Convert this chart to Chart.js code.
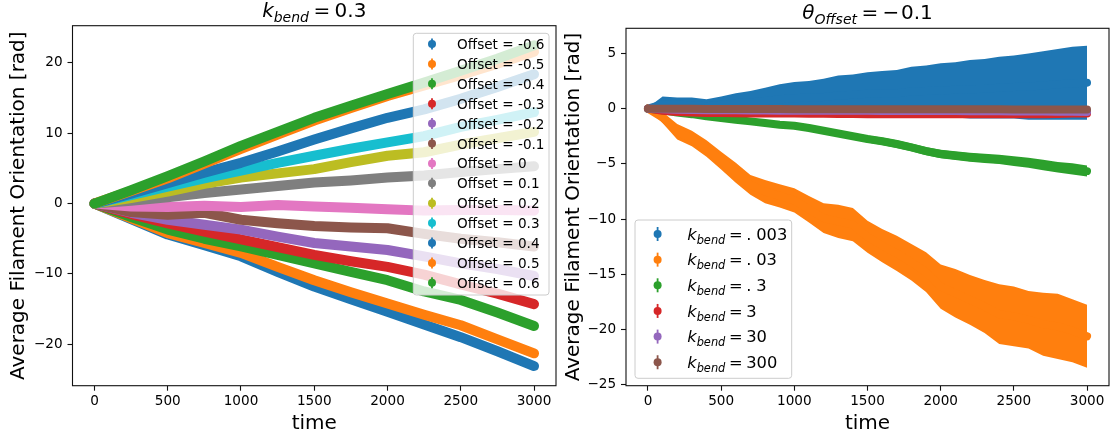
<!DOCTYPE html>
<html>
<head>
<meta charset="utf-8">
<script src="https://cdn.jsdelivr.net/npm/chart.js@4.4.1/dist/chart.umd.min.js"></script>
<style>
  body { margin: 0; background: #fff; }
  #wrap { position: relative; width: 1114px; height: 438px; }
  canvas { position: absolute; left: 0; top: 0; }
</style>
</head>
<body>
<div id="wrap">
  <canvas id="chartOffset" width="1114" height="438"></canvas>
  <canvas id="chartBend" width="1114" height="438"></canvas>
</div>
<script>
const FONT = '"DejaVu Sans", sans-serif'
Chart.defaults.font.family = FONT
Chart.defaults.color = '#000'

const tab10 = ['#1f77b4', '#ff7f0e', '#2ca02c', '#d62728', '#9467bd', '#8c564b', '#e377c2', '#7f7f7f', '#bcbd22', '#17becf']

// ---- left panel: k_bend = 0.3, one curve per offset ----
const tLeft = [0, 250, 500, 750, 1000, 1250, 1500, 1750, 2000, 2250, 2500, 2750, 3000]
const offsetLabels = ['-0.6', '-0.5', '-0.4', '-0.3', '-0.2', '-0.1', '0', '0.1', '0.2', '0.3', '0.4', '0.5', '0.6']

const offsetM06 = [0, -2.2, -4.4, -5.9, -7.5, -9.7, -11.8, -13.6, -15.4, -17.2, -19.0, -21.0, -23.1]
const offsetM05 = [0, -2.1, -4.2, -5.6, -7.0, -9.0, -10.9, -12.6, -14.2, -15.8, -17.3, -19.3, -21.3]
const offsetM04 = [0, -1.9, -3.7, -5.0, -6.1, -7.3, -8.5, -9.7, -10.9, -12.5, -13.7, -15.5, -17.4]
const offsetM03 = [0, -1.5, -2.8, -4.0, -5.1, -6.2, -7.3, -8.2, -9.0, -10.1, -11.5, -12.8, -14.3]
const offsetM02 = [0, -1.3, -2.3, -3.0, -3.7, -4.7, -5.6, -6.1, -6.6, -7.5, -8.5, -9.3, -10.3]
const offsetM01 = [0, -1.2, -1.6, -1.3, -2.3, -2.8, -3.2, -3.4, -3.5, -4.3, -5.0, -5.5, -6.1]
const offset0 = [0, -0.4, -0.5, -0.3, -0.5, -0.2, -0.4, -0.6, -0.8, -1.0, -0.9, -0.9, -1.0]
const offsetP01 = [0, 0.4, 0.9, 1.5, 2.0, 2.5, 3.0, 3.3, 3.7, 4.0, 4.5, 4.9, 5.3]
const offsetP02 = [0, 0.8, 1.7, 2.8, 3.7, 4.3, 4.9, 5.9, 6.8, 7.3, 8.4, 9.3, 10.2]
const offsetP03 = [0, 1.2, 2.4, 3.6, 4.7, 5.8, 6.8, 7.8, 8.7, 9.6, 10.9, 11.9, 13.0]
const offsetP04 = [0, 1.4, 2.9, 4.4, 5.8, 7.4, 9.1, 10.7, 12.2, 13.4, 14.9, 16.6, 18.4]
const offsetP05 = [0, 1.8, 3.6, 5.7, 7.8, 9.8, 11.8, 13.6, 15.3, 16.8, 18.3, 19.9, 21.6]
const offsetP06 = [0, 1.9, 3.9, 6.0, 8.2, 10.2, 12.2, 13.9, 15.6, 17.2, 18.9, 20.6, 22.5]

const xTicks = [0, 500, 1000, 1500, 2000, 2500, 3000]
const yTicksLeft = [-20, -10, 0, 10, 20]

// ---- right panel: offset = -0.1, one curve per k_bend ----
const tRight = [0, 100, 200, 300, 400, 500, 600, 700, 800, 900, 1000, 1100, 1200, 1300, 1400, 1500,
  1600, 1700, 1800, 1900, 2000, 2100, 2200, 2300, 2400, 2500, 2600, 2700, 2800, 2900, 3000]
const kbendLabels = ['.003', '.03', '.3', '3', '30', '300']

const kbend0003 = [0, 0.4, 0.35, 0.3, 0.22, 0.35, 0.5, 0.55, 0.7, 0.85, 0.95, 1.0, 1.05, 1.2, 1.25, 1.35,
  1.4, 1.4, 1.55, 1.6, 1.65, 1.7, 1.75, 1.8, 1.9, 1.95, 2.0, 2.1, 2.2, 2.3, 2.35]
const kbend0003Err = [0.1, 0.7, 0.65, 0.7, 0.62, 0.75, 0.9, 1.05, 1.2, 1.35, 1.45, 1.5, 1.65, 1.8, 1.85, 1.95,
  2.0, 2.1, 2.25, 2.3, 2.45, 2.5, 2.65, 2.7, 2.8, 2.85, 3.0, 3.1, 3.2, 3.3, 3.35]
const kbend003 = [0, -0.8, -2.1, -2.7, -3.6, -4.7, -5.8, -6.9, -7.5, -7.9, -8.3, -9.1, -9.9, -10.2, -10.5, -11.6,
  -12.4, -13.1, -13.9, -14.8, -16.1, -16.7, -17.3, -17.9, -18.6, -18.8, -19.1, -19.5, -19.7, -20.1, -20.6]
const kbend003Err = [0.1, 0.5, 0.7, 0.7, 0.75, 0.8, 0.9, 0.9, 1.05, 1.05, 1.1, 1.2, 1.35, 1.5, 1.5, 1.45,
  1.5, 1.6, 1.65, 1.8, 2.0, 2.2, 2.25, 2.4, 2.7, 2.7, 2.6, 2.85, 2.95, 2.85, 2.85]
const kbend03 = [0, -0.15, -0.35, -0.5, -0.7, -0.85, -1.0, -1.15, -1.3, -1.45, -1.55, -1.75, -2.0, -2.25, -2.5, -2.75,
  -2.95, -3.2, -3.5, -3.85, -4.1, -4.25, -4.4, -4.5, -4.6, -4.75, -4.9, -5.1, -5.3, -5.45, -5.65]
const kbend03Err = [0, 0.1, 0.12, 0.15, 0.17, 0.2, 0.2, 0.22, 0.22, 0.25, 0.25, 0.27, 0.28, 0.3, 0.3, 0.32,
  0.33, 0.35, 0.35, 0.37, 0.38, 0.4, 0.4, 0.42, 0.42, 0.45, 0.45, 0.47, 0.48, 0.5, 0.5]
const kbend3 = [0, -0.2, -0.3, -0.35, -0.4, -0.4, -0.42, -0.45, -0.45, -0.45, -0.45, -0.47, -0.47, -0.48, -0.48, -0.5,
  -0.5, -0.5, -0.5, -0.5, -0.5, -0.5, -0.5, -0.5, -0.5, -0.5, -0.5, -0.5, -0.48, -0.45, -0.45]
const kbend30 = [0, -0.05, -0.1, -0.12, -0.15, -0.15, -0.15, -0.17, -0.17, -0.18, -0.18, -0.2, -0.2, -0.2, -0.2, -0.2,
  -0.22, -0.22, -0.22, -0.22, -0.22, -0.22, -0.24, -0.24, -0.24, -0.25, -0.25, -0.25, -0.27, -0.27, -0.3]
const kbend300 = [0, 0, -0.02, -0.02, -0.03, -0.03, -0.03, -0.04, -0.04, -0.04, -0.05, -0.05, -0.05, -0.05, -0.05, -0.05,
  -0.05, -0.06, -0.06, -0.06, -0.06, -0.06, -0.06, -0.06, -0.06, -0.07, -0.07, -0.07, -0.07, -0.07, -0.07]

const yTicksRight = [-25, -20, -15, -10, -5, 0, 5]

// text with italic symbols and subscripts, drawn piece by piece
const drawMath = (ctx, parts, x, y, size, align) => {
  const fontOf = (p) => (p.it ? 'italic ' : '') + (p.sub ? size * 0.7 : size) + 'px ' + FONT
  let width = 0
  parts.forEach(p => {
    ctx.font = fontOf(p)
    p.w = ctx.measureText(p.t).width
    width += (p.pre || 0) * size + p.w + (p.post || 0) * size
  })
  let cx = align === 'center' ? x - width / 2 : x
  ctx.textAlign = 'left'
  ctx.textBaseline = 'alphabetic'
  parts.forEach(p => {
    cx += (p.pre || 0) * size
    ctx.font = fontOf(p)
    ctx.fillText(p.t, cx, y + (p.sub ? size * 0.25 : 0))
    cx += p.w + (p.post || 0) * size
  })
}

// "sym_sub = value"; a leading decimal point gets a little room after it
const subLabel = (sym, sub, value) => {
  const parts = [{t: sym, it: true}, {t: sub, it: true, sub: true}, {t: '=', pre: 0.22, post: 0.22}]
  if (value.startsWith('.')) parts.push({t: '.', post: 0.3}, {t: value.slice(1)})
  else parts.push({t: value})
  return parts
}

// frame, title and legend go on top of the curves
const panelDecor = {
  id: 'panelDecor',
  afterDatasetsDraw(chart, args, opts) {
    const {ctx, chartArea: a} = chart
    ctx.save()
    ctx.strokeStyle = '#111'
    ctx.lineWidth = 1.1
    ctx.strokeRect(a.left, a.top, a.right - a.left, a.bottom - a.top)

    ctx.fillStyle = '#000'
    drawMath(ctx, opts.title, (a.left + a.right) / 2, opts.titleY, 20, 'center')

    const lg = opts.legend
    ctx.beginPath()
    ctx.roundRect(lg.x, lg.y, lg.w, lg.h, 3)
    ctx.fillStyle = 'rgba(255,255,255,0.8)'
    ctx.fill()
    ctx.strokeStyle = '#cccccc'
    ctx.lineWidth = 1
    ctx.stroke()
    chart.data.datasets.filter(d => d.legendText).forEach((d, i) => {
      const cy = lg.y + lg.first + i * lg.step
      const mx = lg.x + lg.mark
      ctx.strokeStyle = d.borderColor
      ctx.lineWidth = 1.8
      ctx.beginPath()
      ctx.moveTo(mx, cy - lg.bar)
      ctx.lineTo(mx, cy + lg.bar)
      ctx.stroke()
      ctx.fillStyle = d.borderColor
      ctx.beginPath()
      ctx.arc(mx, cy, 4, 0, Math.PI * 2)
      ctx.fill()
      ctx.fillStyle = '#000'
      drawMath(ctx, d.legendText, lg.x + lg.text, cy + lg.base, lg.size, 'left')
    })
    ctx.restore()
  }
}

const tickFmt = (v) => String(v).replace('-', '\u2212')

const axes = (yMin, yMax, yTicks, yWidth, yTitlePad) => ({
  x: {
    type: 'linear', min: -150, max: 3150,
    afterBuildTicks: (s) => { s.ticks = xTicks.map(value => ({value})) },
    afterFit: (s) => { s.height = 52.3 },
    grid: {drawOnChartArea: false, drawTicks: true, tickLength: 5, tickWidth: 1.1, tickColor: '#111'},
    border: {display: false},
    ticks: {font: {size: 13.6}, padding: 3, maxRotation: 0, autoSkip: false, callback: tickFmt},
    title: {display: true, text: 'time', font: {size: 20, lineHeight: 1.2}, padding: {top: 0, bottom: 2.5}}
  },
  y: {
    type: 'linear', min: yMin, max: yMax,
    afterBuildTicks: (s) => { s.ticks = yTicks.map(value => ({value})) },
    afterFit: (s) => { s.width = yWidth },
    grid: {drawOnChartArea: false, drawTicks: true, tickLength: 5, tickWidth: 1.1, tickColor: '#111'},
    border: {display: false},
    ticks: {font: {size: 13.6}, padding: 4.9, autoSkip: false, callback: tickFmt},
    title: {display: true, text: 'Average Filament Orientation [rad]', font: {size: 20, lineHeight: 1.2},
      padding: {top: yTitlePad, bottom: 0}}
  }
})

const points = (ts, ys) => ys.map((y, j) => ({x: ts[j], y}))

// left chart
const offsetSeries = [offsetM06, offsetM05, offsetM04, offsetM03, offsetM02, offsetM01, offset0,
  offsetP01, offsetP02, offsetP03, offsetP04, offsetP05, offsetP06]

new Chart(document.getElementById('chartOffset'), {
  type: 'line',
  data: {
    datasets: offsetSeries.map((ys, i) => ({
      data: points(tLeft, ys),
      borderColor: tab10[i % 10],
      borderWidth: 10,
      borderCapStyle: 'round',
      borderJoinStyle: 'round',
      pointRadius: 0,
      fill: false,
      order: offsetSeries.length - i,
      legendText: [{t: 'Offset = ' + offsetLabels[i]}]
    }))
  },
  options: {
    responsive: false,
    animation: false,
    events: [],
    layout: {padding: {left: 0, top: 25.7, right: 558, bottom: 0}},
    scales: axes(-25.9, 25.3, yTicksLeft, 72.5, 7),
    plugins: {
      legend: {display: false},
      tooltip: {enabled: false},
      panelDecor: {
        title: subLabel('k', 'bend', '0.3'),
        titleY: 16.8,
        legend: {x: 413.3, y: 33.3, w: 135.7, h: 261.7, first: 10.7, step: 19.9, mark: 18.7, text: 43.8,
          bar: 5.5, base: 5.0, size: 13.6}
      }
    }
  },
  plugins: [panelDecor]
})

// right chart: error band (mean ± err) under a thick mean curve
const bendSeries = [
  {mean: kbend0003, err: kbend0003Err},
  {mean: kbend003, err: kbend003Err},
  {mean: kbend03, err: kbend03Err},
  {mean: kbend3},
  {mean: kbend30},
  {mean: kbend300}
]

const bendSets = []
bendSeries.forEach((s, i) => {
  const color = tab10[i]
  if (s.err) {
    bendSets.push({data: points(tRight, s.mean.map((m, j) => m - s.err[j])), borderWidth: 0, pointRadius: 0, fill: false})
    bendSets.push({data: points(tRight, s.mean.map((m, j) => m + s.err[j])), borderWidth: 0, pointRadius: 0,
      fill: '-1', backgroundColor: color})
  }
  bendSets.push({
    data: points(tRight, s.mean),
    borderColor: color,
    borderWidth: 8,
    borderCapStyle: 'round',
    borderJoinStyle: 'round',
    pointRadius: 0,
    fill: false,
    legendText: subLabel('k', 'bend', kbendLabels[i])
  })
})
bendSets.forEach((d, i) => { d.order = bendSets.length - i })

new Chart(document.getElementById('chartBend'), {
  type: 'line',
  data: {datasets: bendSets},
  options: {
    responsive: false,
    animation: false,
    events: [],
    layout: {padding: {left: 557, top: 28.3, right: 5, bottom: 0}},
    scales: axes(-25.07, 7.27, yTicksRight, 69, 5),
    plugins: {
      legend: {display: false},
      tooltip: {enabled: false},
      panelDecor: {
        title: [{t: '\u03b8', it: true}, {t: 'Offset', it: true, sub: true}, {t: '=', pre: 0.22, post: 0.22},
          {t: '\u2212', post: 0.08}, {t: '0.1'}],
        titleY: 19.4,
        legend: {x: 635, y: 220, w: 156.7, h: 158.3, first: 14, step: 25.65, mark: 22.6, text: 52.2,
          bar: 7, base: 5.6, size: 16.3}
      }
    }
  },
  plugins: [panelDecor]
})
</script>
</body>
</html>
